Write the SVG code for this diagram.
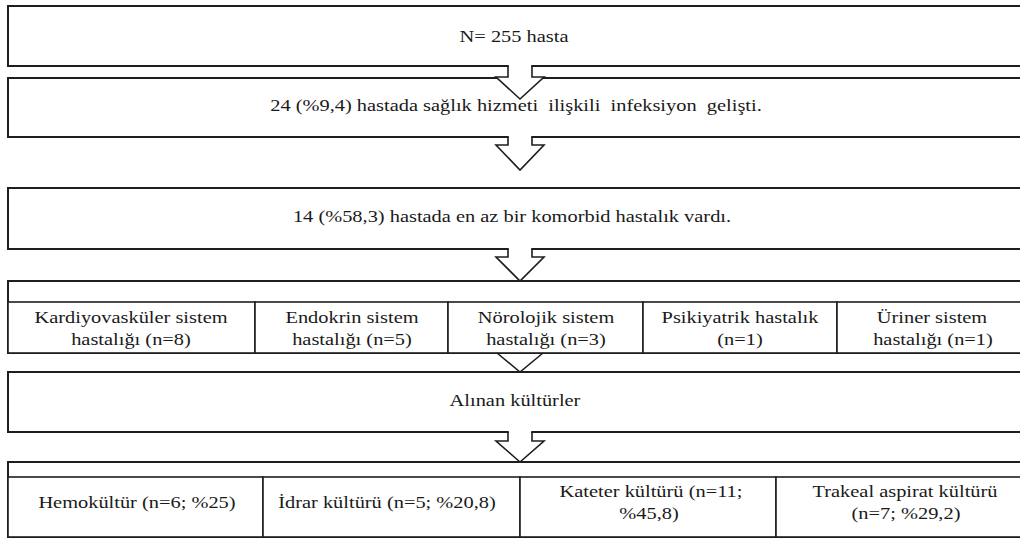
<svg xmlns="http://www.w3.org/2000/svg" width="1020" height="539" viewBox="0 0 1020 539">
<style>
.box{fill:#fff;stroke:#1e1e1e;stroke-width:2}
.cell{fill:#fff;stroke:#1e1e1e;stroke-width:1.6}
.t{font-family:'Liberation Serif','DejaVu Serif',serif;font-size:17px;fill:#1a1a1a;text-anchor:middle}
.af{fill:#fff;stroke:none}
.al{fill:none;stroke:#1e1e1e;stroke-width:1.6;stroke-linejoin:miter}
</style>
<rect width="1020" height="539" fill="#fff"/>
<g id="n1">
<rect class="box" x="8" y="6" width="1030" height="60"/>
<text class="t" transform="translate(514,42) scale(1.2,1)">N= 255 hasta</text>
</g>
<g id="n2">
<rect class="box" x="8" y="78" width="1030" height="59"/>
<text class="t" xml:space="preserve" transform="translate(516,111) scale(1.2,1)">24 (%9,4) hastada sağlık hizmeti  ilişkili  infeksiyon  gelişti.</text>
</g>
<g id="n3">
<rect class="box" x="8" y="188" width="1030" height="61"/>
<text class="t" transform="translate(512,222) scale(1.2,1)">14 (%58,3) hastada en az bir komorbid hastalık vardı.</text>
</g>
<g id="n4">
<rect class="box" x="8" y="281" width="1030" height="72"/>
<g id="n4a"><rect class="cell" x="8" y="302" width="247" height="51"/>
<text class="t" transform="translate(131,323) scale(1.2,1)">Kardiyovasküler sistem</text>
<text class="t" transform="translate(131,345) scale(1.2,1)">hastalığı (n=8)</text></g>
<g id="n4b"><rect class="cell" x="255" y="302" width="193" height="51"/>
<text class="t" transform="translate(352,323) scale(1.2,1)">Endokrin sistem</text>
<text class="t" transform="translate(352,345) scale(1.2,1)">hastalığı (n=5)</text></g>
<g id="n4c"><rect class="cell" x="448" y="302" width="195" height="51"/>
<text class="t" transform="translate(546,323) scale(1.2,1)">Nörolojik sistem</text>
<text class="t" transform="translate(546,345) scale(1.2,1)">hastalığı (n=3)</text></g>
<g id="n4d"><rect class="cell" x="643" y="302" width="194" height="51"/>
<text class="t" transform="translate(740,323) scale(1.2,1)">Psikiyatrik hastalık</text>
<text class="t" transform="translate(740,345) scale(1.2,1)">(n=1)</text></g>
<g id="n4e"><rect class="cell" x="837" y="302" width="200" height="51"/>
<text class="t" transform="translate(932,323) scale(1.2,1)">Üriner sistem</text>
<text class="t" transform="translate(933,345) scale(1.2,1)">hastalığı (n=1)</text></g>
</g>
<g id="n5">
<rect class="box" x="8" y="372" width="1030" height="60"/>
<text class="t" transform="translate(515,406) scale(1.2,1)">Alınan kültürler</text>
</g>
<g id="n6">
<rect class="box" x="8" y="462" width="1030" height="75"/>
<g id="n6a"><rect class="cell" x="8" y="477" width="255" height="60"/>
<text class="t" transform="translate(137,508) scale(1.2,1)">Hemokültür (n=6; %25)</text></g>
<g id="n6b"><rect class="cell" x="263" y="477" width="257" height="60"/>
<text class="t" transform="translate(387,508) scale(1.2,1)">İdrar kültürü (n=5; %20,8)</text></g>
<g id="n6c"><rect class="cell" x="520" y="477" width="256" height="60"/>
<text class="t" transform="translate(651,497) scale(1.2,1)">Kateter kültürü (n=11;</text>
<text class="t" transform="translate(649,519) scale(1.2,1)">%45,8)</text></g>
<g id="n6d"><rect class="cell" x="776" y="477" width="262" height="60"/>
<text class="t" transform="translate(905,497) scale(1.2,1)">Trakeal aspirat kültürü</text>
<text class="t" transform="translate(906,519) scale(1.2,1)">(n=7; %29,2)</text></g>
</g>
<g id="connectors">
<path class="af" d="M508.8,64 V77 H496 L520,99 L544,77 H531.2 V64 Z"/>
<path class="al" d="M508,66 V77 H496 L520,99 L544,77 H532 V66"/>
<path class="af" d="M508.8,135 V145 H496 L520,170 L544,145 H531.2 V135 Z"/>
<path class="al" d="M508,137 V145 H496 L520,170 L544,145 H532 V137"/>
<path class="af" d="M508.8,247 V257 H496 L520,281 L544,257 H531.2 V247 Z"/>
<path class="al" d="M508,249 V257 H496 L520,281 L544,257 H532 V249"/>
<path class="af" d="M497,354 L520,372 L543,354 Z"/>
<path class="al" d="M497,353 L520,372 L543,353"/>
<path class="af" d="M508.8,430 V441 H496 L520,462 L544,441 H531.2 V430 Z"/>
<path class="al" d="M508,432 V441 H496 L520,462 L544,441 H532 V432"/>
</g>
</svg>
